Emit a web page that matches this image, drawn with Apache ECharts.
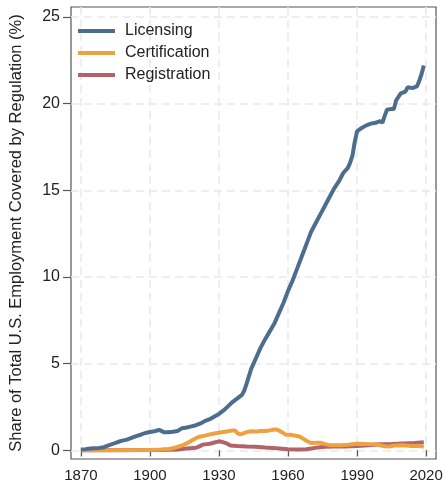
<!DOCTYPE html>
<html>
<head>
<meta charset="utf-8">
<script src="https://cdn.jsdelivr.net/npm/echarts@6/dist/echarts.min.js"></script>
<style>
html,body{margin:0;padding:0;background:#fff;}
#chart{width:446px;height:485px;}
</style>
</head>
<body>
<div id="chart"></div>
<script>
const seriesNames = ['Licensing', 'Certification', 'Registration'];
const xTicks = [1870, 1900, 1930, 1960, 1990, 2020];
const yTicks = [0, 5, 10, 15, 20, 25];

const licensingYears = [1870,1872,1874,1876,1878,1880,1882,1884,1886,1888,1890,1892,1894,1896,1898,1900,1902,1904,1906,1908,1910,1912,1914,1916,1918,1920,1922,1924,1926,1928,1930,1932,1934,1936,1938,1940,1941,1942,1944,1946,1948,1950,1952,1954,1956,1958,1960,1962,1964,1966,1968,1970,1972,1974,1976,1978,1980,1982,1984,1986,1987,1988,1989,1990,1992,1994,1996,1998,2000,2001,2002,2003,2005,2006,2007,2009,2011,2012,2014,2016,2017,2018,2019];
const licensingValues = [0.05,0.07,0.1,0.12,0.14,0.18,0.28,0.38,0.48,0.56,0.62,0.72,0.82,0.9,1.0,1.06,1.1,1.18,1.05,1.05,1.07,1.12,1.28,1.32,1.38,1.45,1.55,1.7,1.8,1.95,2.1,2.3,2.55,2.8,3.0,3.2,3.45,3.85,4.7,5.3,5.9,6.4,6.85,7.3,7.9,8.5,9.2,9.8,10.5,11.2,11.9,12.6,13.1,13.6,14.1,14.6,15.1,15.5,16.0,16.3,16.6,17.0,17.8,18.4,18.6,18.75,18.85,18.9,19.0,18.9,19.3,19.65,19.7,19.7,20.2,20.6,20.7,20.95,20.9,21.0,21.3,21.7,22.2];

const certificationYears = [1870,1900,1905,1908,1910,1912,1914,1916,1918,1920,1922,1924,1926,1928,1930,1932,1934,1936,1937,1938,1939,1940,1942,1944,1946,1948,1950,1952,1954,1955,1956,1958,1959,1961,1963,1965,1966,1968,1970,1972,1974,1976,1978,1980,1983,1986,1990,1994,1998,2002,2004,2006,2010,2014,2017,2019];
const certificationValues = [0,0.02,0.05,0.08,0.12,0.2,0.28,0.4,0.55,0.7,0.8,0.85,0.92,0.97,1.02,1.06,1.1,1.15,1.15,1.0,0.92,0.95,1.05,1.1,1.08,1.12,1.12,1.15,1.2,1.2,1.15,1.0,0.9,0.9,0.85,0.8,0.72,0.55,0.42,0.44,0.44,0.36,0.3,0.3,0.3,0.32,0.38,0.36,0.35,0.24,0.22,0.28,0.3,0.25,0.26,0.2];

const registrationYears = [1870,1905,1912,1916,1920,1921,1923,1926,1928,1930,1931,1933,1935,1938,1942,1946,1950,1955,1960,1965,1968,1970,1973,1976,1980,1985,1990,1995,2000,2005,2010,2015,2019];
const registrationValues = [0,0.02,0.05,0.1,0.15,0.2,0.33,0.38,0.45,0.52,0.5,0.42,0.28,0.25,0.22,0.2,0.16,0.12,0.06,0.05,0.06,0.1,0.17,0.2,0.22,0.22,0.25,0.3,0.35,0.37,0.4,0.42,0.46];

const colors = ['#4d6d8f', '#eea13e', '#b0636b'];
const font = '"Liberation Sans", Arial, Helvetica, sans-serif';

function pairs(xs, ys) { return xs.map((x, i) => [x, ys[i]]); }

const chart = echarts.init(document.getElementById('chart'), null, {renderer: 'canvas'});
const splitStyle = {show: true, lineStyle: {color: '#e9e9e9', width: 1.5, type: [8, 5]}};
chart.setOption({
  animation: false,
  color: colors,
  textStyle: {fontFamily: font},
  grid: {left: 66, right: 10, top: 7, bottom: 26, show: true, borderColor: '#555', borderWidth: 1.2, containLabel: false},
  legend: {
    left: 78, top: 20, orient: 'vertical', itemGap: 0, itemWidth: 37, itemHeight: 4,
    padding: 0,
    icon: 'rect',
    data: seriesNames,
    textStyle: {fontSize: 16, color: '#222', fontFamily: font, lineHeight: 22, padding: [0, 0, 0, 5]}
  },
  xAxis: {
    type: 'value', min: 1865.7, max: 2024.3,
    axisLine: {show: false},
    axisTick: {show: true, length: 6, customValues: xTicks, lineStyle: {color: '#555', width: 1.2}},
    axisLabel: {customValues: xTicks, fontSize: 15, color: '#222', margin: 9, fontFamily: font, formatter: (v) => String(v)},
    splitLine: splitStyle
  },
  yAxis: {
    type: 'value', min: -0.5, max: 25.58,
    name: 'Share of Total U.S. Employment Covered by Regulation (%)',
    nameLocation: 'middle', nameGap: 46, nameRotate: 90,
    nameTextStyle: {fontSize: 16.5, color: '#222', fontFamily: font},
    axisLine: {show: false},
    axisTick: {show: true, length: 8, customValues: yTicks, lineStyle: {color: '#555', width: 1.2}},
    axisLabel: {customValues: yTicks, fontSize: 16, color: '#222', margin: 11, fontFamily: font},
    splitLine: splitStyle
  },
  series: [
    {name: seriesNames[2], type: 'line', data: pairs(registrationYears, registrationValues), showSymbol: false, symbol: 'none', lineStyle: {width: 4}, z: 3},
    {name: seriesNames[1], type: 'line', data: pairs(certificationYears, certificationValues), showSymbol: false, symbol: 'none', lineStyle: {width: 4}, z: 4},
    {name: seriesNames[0], type: 'line', data: pairs(licensingYears, licensingValues), showSymbol: false, symbol: 'none', lineStyle: {width: 4}, z: 5}
  ].map((s) => Object.assign(s, {color: colors[seriesNames.indexOf(s.name)]}))
});
</script>
</body>
</html>
